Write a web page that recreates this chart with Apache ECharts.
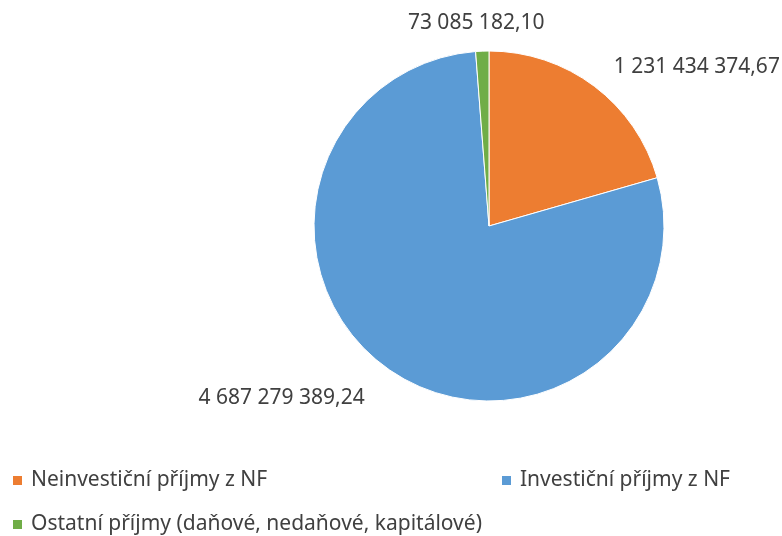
<!DOCTYPE html>
<html>
<head>
<meta charset="utf-8">
<script src="https://cdn.jsdelivr.net/npm/echarts@6/dist/echarts.min.js"></script>
<style>
  html, body { margin: 0; padding: 0; background: #fff; }
  #chart { width: 782px; height: 536px; }
</style>
</head>
<body>
<div id="chart"></div>
<script>
const categories = [
  'Neinvestiční příjmy z NF',
  'Investiční příjmy z NF',
  'Ostatní příjmy (daňové, nedaňové, kapitálové)'
]
const values = [1231434374.67, 4687279389.24, 73085182.10]
const colors = ['#ED7D31', '#5B9BD5', '#70AD47']

// czech style number: 1 231 434 374,67
function fmt (v) {
  let parts = v.toFixed(2).split('.')
  let intPart = parts[0].replace(/\B(?=(\d{3})+(?!\d))/g, ' ')
  return intPart + ',' + parts[1]
}

const font = 'Noto Sans'
const chart = echarts.init(document.getElementById('chart'))

const legendBase = {
  orient: 'horizontal',
  icon: 'rect',
  padding: 0,
  itemWidth: 9,
  itemHeight: 9,
  itemGap: 8,
  itemStyle: { borderWidth: 0 },
  textStyle: { fontFamily: font, fontSize: 21, color: '#404040', padding: [0, 0, 0, 4] }
}
const lineLengths = [24, 34, 28]

chart.setOption({
  color: colors,
  animation: false,
  legend: [
    Object.assign({ left: 13, top: 470, data: [categories[0]] }, legendBase),
    Object.assign({ left: 502, top: 470, data: [categories[1]] }, legendBase),
    Object.assign({ left: 13, top: 514, data: [categories[2]] }, legendBase)
  ],
  series: [{
    type: 'pie',
    center: [489, 226],
    radius: 175,
    startAngle: 90,
    clockwise: true,
    avoidLabelOverlap: false,
    itemStyle: { borderColor: '#fff', borderWidth: 1 },
    label: {
      show: true,
      position: 'outside',
      fontFamily: font,
      fontSize: 21,
      color: '#404040',
      formatter: (p) => fmt(p.value)
    },
    labelLine: { show: false, length: 28, length2: 0 },
    labelLayout: (params) => {
      // the small slice label sits centred above the pie
      if (params.dataIndex === 2) return { align: 'center' }
      return {}
    },
    data: categories.map((name, i) => ({
      name: name,
      value: values[i],
      labelLine: { show: false, length: lineLengths[i], length2: 0 }
    }))
  }]
})
</script>
</body>
</html>
